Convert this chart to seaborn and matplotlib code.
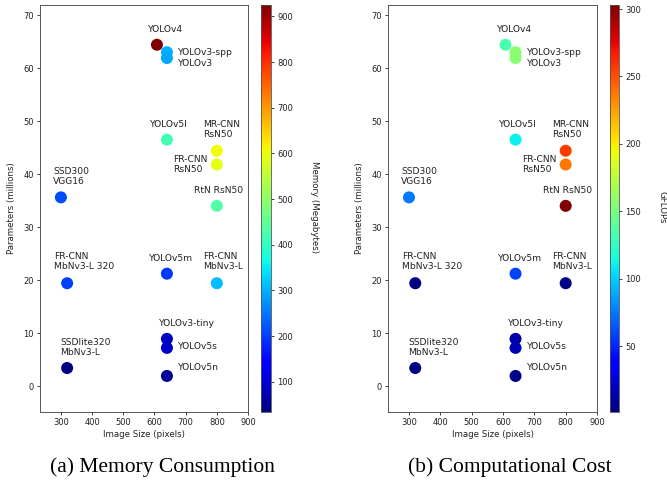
import numpy as np
import pandas as pd
import matplotlib
matplotlib.use("Agg")
import matplotlib.pyplot as plt
import matplotlib.colors as mcolors
import matplotlib.cm as cm
import seaborn as sns

# ---------------- data ----------------
models = ["YOLOv4", "YOLOv3-spp", "YOLOv3", "YOLOv5l", "MR-CNN\nRsN50",
          "FR-CNN\nRsN50", "RtN RsN50", "SSD300\nVGG16", "FR-CNN\nMbNv3-L 320",
          "YOLOv5m", "FR-CNN\nMbNv3-L", "YOLOv3-tiny", "YOLOv5s",
          "SSDlite320\nMbNv3-L", "YOLOv5n"]
image_size = [608, 640, 640, 640, 800, 800, 800, 300, 320, 640, 800, 640, 640, 320, 640]
params = [64.4, 63.0, 61.9, 46.5, 44.4, 41.8, 34.0, 35.6, 19.4, 21.2, 19.4, 8.9, 7.2, 3.4, 1.9]
memory = [925, 300, 295, 420, 605, 592, 435, 212, 203, 195, 310, 89, 90, 34, 56]
gflops = [134, 157, 156, 110, 256, 238, 303, 75, 1.5, 60, 4.5, 13, 16.5, 1.3, 4.5]

# label placement (pixel offsets from the point) -- styling only
label_dx = [-9, 11, 11, -17, -14, -44, -23, -8, -13, -18, -14, -8, 11, -7, 11]
label_dy = [11, 0, -6, 11, 12, 0, 11, 11, 12, 11, 12, 11, 1, 11, 8]
label_va = ["bottom", "center", "center", "bottom", "bottom", "center", "bottom",
            "bottom", "bottom", "bottom", "bottom", "bottom", "center", "bottom", "center"]

df = pd.DataFrame({"model": models, "size": image_size, "params": params,
                   "memory": memory, "gflops": gflops})

sns.set_style("ticks")
plt.rcParams["font.family"] = ["DejaVu Sans"]

W, H = 667, 482
fig = plt.figure(figsize=(W / 100, H / 100), dpi=100)
jet = matplotlib.colormaps["jet"]


def frac(l, t, r, b):
    return [l / W, 1 - b / H, (r - l) / W, (b - t) / H]


panels = [
    dict(ax=frac(40, 5, 248, 412), cax=frac(261, 5, 271, 412), col="memory",
         clabel="Memory (Megabytes)", cticks=[100, 200, 300, 400, 500, 600, 700, 800, 900],
         clabel_x=315, caption="(a) Memory Consumption", cap_x=162),
    dict(ax=frac(388, 5, 597, 412), cax=frac(610, 5, 619, 412), col="gflops",
         clabel="GFLOPs", cticks=[50, 100, 150, 200, 250, 300],
         clabel_x=662, caption="(b) Computational Cost", cap_x=510),
]

txt = "#222222"
for p in panels:
    ax = fig.add_axes(p["ax"])
    cax = fig.add_axes(p["cax"])
    vals = df[p["col"]]
    norm = mcolors.Normalize(vmin=vals.min(), vmax=vals.max())
    sns.scatterplot(data=df, x="size", y="params", hue=p["col"], palette=jet,
                    hue_norm=norm, s=75, linewidth=0, legend=False, ax=ax, zorder=3)
    ax.set_xlim(233, 900)
    ax.set_ylim(-4.9, 71.9)
    ax.set_xticks([300, 400, 500, 600, 700, 800, 900])
    ax.set_yticks([0, 10, 20, 30, 40, 50, 60, 70])
    ax.set_xlabel("Image Size (pixels)", fontsize=6.2, color=txt, labelpad=2)
    ax.set_ylabel("Parameters (millions)", fontsize=6.2, color=txt, labelpad=5)
    ax.tick_params(labelsize=6, colors=txt, length=2.5, width=0.6, pad=2)
    for s in ax.spines.values():
        s.set_linewidth(0.7)
        s.set_color("#555555")
    for i, row in df.iterrows():
        ax.annotate(row["model"], (row["size"], row["params"]),
                    xytext=(label_dx[i], label_dy[i]), textcoords="offset pixels",
                    ha="left", va=label_va[i], fontsize=6.6, color=txt,
                    linespacing=1.15, zorder=4)
    sm = cm.ScalarMappable(norm=norm, cmap=jet)
    cb = fig.colorbar(sm, cax=cax)
    cb.set_ticks(p["cticks"])
    cb.ax.tick_params(labelsize=6, colors=txt, length=2.5, width=0.6, pad=2)
    cb.outline.set_linewidth(0.6)
    cb.outline.set_edgecolor("#555555")
    fig.text(p["clabel_x"] / W, 1 - 207 / H, p["clabel"], rotation=270,
             ha="center", va="center", fontsize=6.2, color=txt)
    fig.text(p["cap_x"] / W, 1 - 467 / H, p["caption"], ha="center", va="center",
             fontsize=15.5, family="Liberation Serif", color="black")

fig.savefig("out.png", dpi=100)
